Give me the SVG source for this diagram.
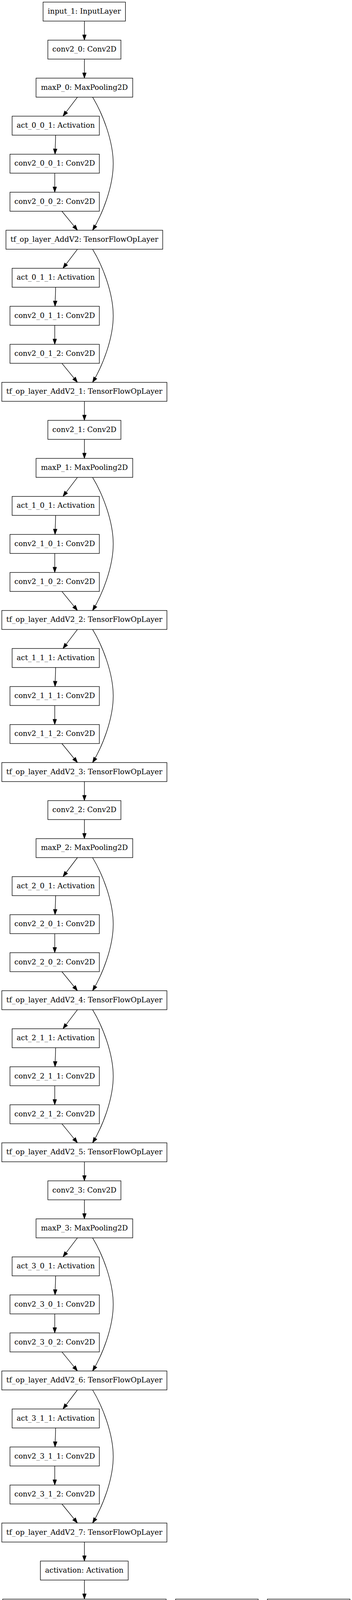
<svg xmlns="http://www.w3.org/2000/svg" width="900" height="4440" viewBox="0 0 900 4440">
<style>
.node rect{fill:#fff;stroke:#000;stroke-width:1.35}
.node text{font-family:"DejaVu Serif",serif;font-size:18.6px;text-anchor:middle;fill:#000}
#edges path{fill:none;stroke:#000;stroke-width:1.35;marker-end:url(#arr)}
</style>
<defs>
<marker id="arr" markerUnits="userSpaceOnUse" markerWidth="14" markerHeight="9.5" viewBox="0 0 14 9.5" refX="13.5" refY="4.75" orient="auto" overflow="visible"><path d="M0,0 L13.5,4.75 L0,9.5 z" fill="#000" stroke="#000" stroke-width="1"/></marker>
</defs>
<rect width="900" height="4440" fill="#fff"/>
<g id="edges">
<path transform="translate(0,29.7)" d="M215.8,24.3 L215.8,73.04"/>
<path transform="translate(0,127.04)" d="M215.8,24.3 L215.8,73.04"/>
<path transform="translate(0,224.38)" d="M198,24.3 L161,73.04"/>
<path transform="translate(0,224.38)" d="M236.7,24.3 C262,66 289.5,135.7 289.5,194.7 C289.5,253.7 262,323.4 236.7,365.06"/>
<path transform="translate(0,321.72)" d="M142.3,24.3 L140.7,73.04"/>
<path transform="translate(0,419.06)" d="M140,24.3 L140,73.04"/>
<path transform="translate(0,516.4)" d="M158.3,24.3 L198,73.04"/>
<path transform="translate(0,613.74)" d="M198,24.3 L161,73.04"/>
<path transform="translate(0,613.74)" d="M236.7,24.3 C262,66 289.5,135.7 289.5,194.7 C289.5,253.7 262,323.4 236.7,365.06"/>
<path transform="translate(0,711.08)" d="M142.3,24.3 L140.7,73.04"/>
<path transform="translate(0,808.42)" d="M140,24.3 L140,73.04"/>
<path transform="translate(0,905.76)" d="M158.3,24.3 L198,73.04"/>
<path transform="translate(0,1003.1)" d="M215.8,24.3 L215.8,73.04"/>
<path transform="translate(0,1100.44)" d="M215.8,24.3 L215.8,73.04"/>
<path transform="translate(0,1197.78)" d="M198,24.3 L161,73.04"/>
<path transform="translate(0,1197.78)" d="M236.7,24.3 C262,66 289.5,135.7 289.5,194.7 C289.5,253.7 262,323.4 236.7,365.06"/>
<path transform="translate(0,1295.12)" d="M142.3,24.3 L140.7,73.04"/>
<path transform="translate(0,1392.46)" d="M140,24.3 L140,73.04"/>
<path transform="translate(0,1489.8)" d="M158.3,24.3 L198,73.04"/>
<path transform="translate(0,1587.14)" d="M198,24.3 L161,73.04"/>
<path transform="translate(0,1587.14)" d="M236.7,24.3 C262,66 289.5,135.7 289.5,194.7 C289.5,253.7 262,323.4 236.7,365.06"/>
<path transform="translate(0,1684.48)" d="M142.3,24.3 L140.7,73.04"/>
<path transform="translate(0,1781.82)" d="M140,24.3 L140,73.04"/>
<path transform="translate(0,1879.16)" d="M158.3,24.3 L198,73.04"/>
<path transform="translate(0,1976.5)" d="M215.8,24.3 L215.8,73.04"/>
<path transform="translate(0,2073.84)" d="M215.8,24.3 L215.8,73.04"/>
<path transform="translate(0,2171.18)" d="M198,24.3 L161,73.04"/>
<path transform="translate(0,2171.18)" d="M236.7,24.3 C262,66 289.5,135.7 289.5,194.7 C289.5,253.7 262,323.4 236.7,365.06"/>
<path transform="translate(0,2268.52)" d="M142.3,24.3 L140.7,73.04"/>
<path transform="translate(0,2365.86)" d="M140,24.3 L140,73.04"/>
<path transform="translate(0,2463.2)" d="M158.3,24.3 L198,73.04"/>
<path transform="translate(0,2560.54)" d="M198,24.3 L161,73.04"/>
<path transform="translate(0,2560.54)" d="M236.7,24.3 C262,66 289.5,135.7 289.5,194.7 C289.5,253.7 262,323.4 236.7,365.06"/>
<path transform="translate(0,2657.88)" d="M142.3,24.3 L140.7,73.04"/>
<path transform="translate(0,2755.22)" d="M140,24.3 L140,73.04"/>
<path transform="translate(0,2852.56)" d="M158.3,24.3 L198,73.04"/>
<path transform="translate(0,2949.9)" d="M215.8,24.3 L215.8,73.04"/>
<path transform="translate(0,3047.24)" d="M215.8,24.3 L215.8,73.04"/>
<path transform="translate(0,3144.58)" d="M198,24.3 L161,73.04"/>
<path transform="translate(0,3144.58)" d="M236.7,24.3 C262,66 289.5,135.7 289.5,194.7 C289.5,253.7 262,323.4 236.7,365.06"/>
<path transform="translate(0,3241.92)" d="M142.3,24.3 L140.7,73.04"/>
<path transform="translate(0,3339.26)" d="M140,24.3 L140,73.04"/>
<path transform="translate(0,3436.6)" d="M158.3,24.3 L198,73.04"/>
<path transform="translate(0,3533.94)" d="M198,24.3 L161,73.04"/>
<path transform="translate(0,3533.94)" d="M236.7,24.3 C262,66 289.5,135.7 289.5,194.7 C289.5,253.7 262,323.4 236.7,365.06"/>
<path transform="translate(0,3631.28)" d="M142.3,24.3 L140.7,73.04"/>
<path transform="translate(0,3728.62)" d="M140,24.3 L140,73.04"/>
<path transform="translate(0,3825.96)" d="M158.3,24.3 L198,73.04"/>
<path transform="translate(0,3923.3)" d="M215.8,24.3 L215.8,73.04"/>
<path transform="translate(0,4020.64)" d="M215.8,24.3 L215.8,73.04"/>
<path d="M231.5,4142.3 L264.8,4191"/>
<path d="M554.4,4142.3 L554.4,4191"/>
<path d="M785,4142.3 L776,4191"/>
<path d="M346.7,4239.6 L488.3,4288.4"/>
<path d="M554.4,4239.6 L554.4,4288.4"/>
<path d="M719.3,4239.6 L606.9,4288.4"/>
<path d="M554.4,4337 L554.4,4385.7"/>
</g>
<g id="input_1" class="node" transform="translate(0,29.7)"><rect x="110.2" y="-24.3" width="210.5" height="48.6"/><text x="215.5" y="5.3">input_1: InputLayer</text></g>
<g id="conv2_0" class="node" transform="translate(0,127.04)"><rect x="122.4" y="-24.3" width="186.8" height="48.6"/><text x="215.8" y="5.3">conv2_0: Conv2D</text></g>
<g id="maxP_0" class="node" transform="translate(0,224.38)"><rect x="92.2" y="-24.3" width="247.2" height="48.6"/><text x="215.8" y="5.3">maxP_0: MaxPooling2D</text></g>
<g id="act_0_0_1" class="node" transform="translate(0,321.72)"><rect x="31" y="-24.3" width="223" height="48.6"/><text x="142.5" y="5.3">act_0_0_1: Activation</text></g>
<g id="conv2_0_0_1" class="node" transform="translate(0,419.06)"><rect x="25.5" y="-24.3" width="228.5" height="48.6"/><text x="139.8" y="5.3">conv2_0_0_1: Conv2D</text></g>
<g id="conv2_0_0_2" class="node" transform="translate(0,516.4)"><rect x="25.5" y="-24.3" width="228.5" height="48.6"/><text x="139.8" y="5.3">conv2_0_0_2: Conv2D</text></g>
<g id="tf_op_layer_AddV2" class="node" transform="translate(0,613.74)"><rect x="15.3" y="-24.3" width="400.7" height="48.6"/><text x="215.65" y="5.3">tf_op_layer_AddV2: TensorFlowOpLayer</text></g>
<g id="act_0_1_1" class="node" transform="translate(0,711.08)"><rect x="31" y="-24.3" width="223" height="48.6"/><text x="142.5" y="5.3">act_0_1_1: Activation</text></g>
<g id="conv2_0_1_1" class="node" transform="translate(0,808.42)"><rect x="25.5" y="-24.3" width="228.5" height="48.6"/><text x="139.8" y="5.3">conv2_0_1_1: Conv2D</text></g>
<g id="conv2_0_1_2" class="node" transform="translate(0,905.76)"><rect x="25.5" y="-24.3" width="228.5" height="48.6"/><text x="139.8" y="5.3">conv2_0_1_2: Conv2D</text></g>
<g id="tf_op_layer_AddV2_1" class="node" transform="translate(0,1003.1)"><rect x="4.6" y="-24.3" width="422.1" height="48.6"/><text x="215.65" y="5.3">tf_op_layer_AddV2_1: TensorFlowOpLayer</text></g>
<g id="conv2_1" class="node" transform="translate(0,1100.44)"><rect x="122.4" y="-24.3" width="186.8" height="48.6"/><text x="215.8" y="5.3">conv2_1: Conv2D</text></g>
<g id="maxP_1" class="node" transform="translate(0,1197.78)"><rect x="92.2" y="-24.3" width="247.2" height="48.6"/><text x="215.8" y="5.3">maxP_1: MaxPooling2D</text></g>
<g id="act_1_0_1" class="node" transform="translate(0,1295.12)"><rect x="31" y="-24.3" width="223" height="48.6"/><text x="142.5" y="5.3">act_1_0_1: Activation</text></g>
<g id="conv2_1_0_1" class="node" transform="translate(0,1392.46)"><rect x="25.5" y="-24.3" width="228.5" height="48.6"/><text x="139.8" y="5.3">conv2_1_0_1: Conv2D</text></g>
<g id="conv2_1_0_2" class="node" transform="translate(0,1489.8)"><rect x="25.5" y="-24.3" width="228.5" height="48.6"/><text x="139.8" y="5.3">conv2_1_0_2: Conv2D</text></g>
<g id="tf_op_layer_AddV2_2" class="node" transform="translate(0,1587.14)"><rect x="4.6" y="-24.3" width="422.1" height="48.6"/><text x="215.65" y="5.3">tf_op_layer_AddV2_2: TensorFlowOpLayer</text></g>
<g id="act_1_1_1" class="node" transform="translate(0,1684.48)"><rect x="31" y="-24.3" width="223" height="48.6"/><text x="142.5" y="5.3">act_1_1_1: Activation</text></g>
<g id="conv2_1_1_1" class="node" transform="translate(0,1781.82)"><rect x="25.5" y="-24.3" width="228.5" height="48.6"/><text x="139.8" y="5.3">conv2_1_1_1: Conv2D</text></g>
<g id="conv2_1_1_2" class="node" transform="translate(0,1879.16)"><rect x="25.5" y="-24.3" width="228.5" height="48.6"/><text x="139.8" y="5.3">conv2_1_1_2: Conv2D</text></g>
<g id="tf_op_layer_AddV2_3" class="node" transform="translate(0,1976.5)"><rect x="4.6" y="-24.3" width="422.1" height="48.6"/><text x="215.65" y="5.3">tf_op_layer_AddV2_3: TensorFlowOpLayer</text></g>
<g id="conv2_2" class="node" transform="translate(0,2073.84)"><rect x="122.4" y="-24.3" width="186.8" height="48.6"/><text x="215.8" y="5.3">conv2_2: Conv2D</text></g>
<g id="maxP_2" class="node" transform="translate(0,2171.18)"><rect x="92.2" y="-24.3" width="247.2" height="48.6"/><text x="215.8" y="5.3">maxP_2: MaxPooling2D</text></g>
<g id="act_2_0_1" class="node" transform="translate(0,2268.52)"><rect x="31" y="-24.3" width="223" height="48.6"/><text x="142.5" y="5.3">act_2_0_1: Activation</text></g>
<g id="conv2_2_0_1" class="node" transform="translate(0,2365.86)"><rect x="25.5" y="-24.3" width="228.5" height="48.6"/><text x="139.8" y="5.3">conv2_2_0_1: Conv2D</text></g>
<g id="conv2_2_0_2" class="node" transform="translate(0,2463.2)"><rect x="25.5" y="-24.3" width="228.5" height="48.6"/><text x="139.8" y="5.3">conv2_2_0_2: Conv2D</text></g>
<g id="tf_op_layer_AddV2_4" class="node" transform="translate(0,2560.54)"><rect x="4.6" y="-24.3" width="422.1" height="48.6"/><text x="215.65" y="5.3">tf_op_layer_AddV2_4: TensorFlowOpLayer</text></g>
<g id="act_2_1_1" class="node" transform="translate(0,2657.88)"><rect x="31" y="-24.3" width="223" height="48.6"/><text x="142.5" y="5.3">act_2_1_1: Activation</text></g>
<g id="conv2_2_1_1" class="node" transform="translate(0,2755.22)"><rect x="25.5" y="-24.3" width="228.5" height="48.6"/><text x="139.8" y="5.3">conv2_2_1_1: Conv2D</text></g>
<g id="conv2_2_1_2" class="node" transform="translate(0,2852.56)"><rect x="25.5" y="-24.3" width="228.5" height="48.6"/><text x="139.8" y="5.3">conv2_2_1_2: Conv2D</text></g>
<g id="tf_op_layer_AddV2_5" class="node" transform="translate(0,2949.9)"><rect x="4.6" y="-24.3" width="422.1" height="48.6"/><text x="215.65" y="5.3">tf_op_layer_AddV2_5: TensorFlowOpLayer</text></g>
<g id="conv2_3" class="node" transform="translate(0,3047.24)"><rect x="122.4" y="-24.3" width="186.8" height="48.6"/><text x="215.8" y="5.3">conv2_3: Conv2D</text></g>
<g id="maxP_3" class="node" transform="translate(0,3144.58)"><rect x="92.2" y="-24.3" width="247.2" height="48.6"/><text x="215.8" y="5.3">maxP_3: MaxPooling2D</text></g>
<g id="act_3_0_1" class="node" transform="translate(0,3241.92)"><rect x="31" y="-24.3" width="223" height="48.6"/><text x="142.5" y="5.3">act_3_0_1: Activation</text></g>
<g id="conv2_3_0_1" class="node" transform="translate(0,3339.26)"><rect x="25.5" y="-24.3" width="228.5" height="48.6"/><text x="139.8" y="5.3">conv2_3_0_1: Conv2D</text></g>
<g id="conv2_3_0_2" class="node" transform="translate(0,3436.6)"><rect x="25.5" y="-24.3" width="228.5" height="48.6"/><text x="139.8" y="5.3">conv2_3_0_2: Conv2D</text></g>
<g id="tf_op_layer_AddV2_6" class="node" transform="translate(0,3533.94)"><rect x="4.6" y="-24.3" width="422.1" height="48.6"/><text x="215.65" y="5.3">tf_op_layer_AddV2_6: TensorFlowOpLayer</text></g>
<g id="act_3_1_1" class="node" transform="translate(0,3631.28)"><rect x="31" y="-24.3" width="223" height="48.6"/><text x="142.5" y="5.3">act_3_1_1: Activation</text></g>
<g id="conv2_3_1_1" class="node" transform="translate(0,3728.62)"><rect x="25.5" y="-24.3" width="228.5" height="48.6"/><text x="139.8" y="5.3">conv2_3_1_1: Conv2D</text></g>
<g id="conv2_3_1_2" class="node" transform="translate(0,3825.96)"><rect x="25.5" y="-24.3" width="228.5" height="48.6"/><text x="139.8" y="5.3">conv2_3_1_2: Conv2D</text></g>
<g id="tf_op_layer_AddV2_7" class="node" transform="translate(0,3923.3)"><rect x="4.6" y="-24.3" width="422.1" height="48.6"/><text x="215.65" y="5.3">tf_op_layer_AddV2_7: TensorFlowOpLayer</text></g>
<g id="activation" class="node" transform="translate(0,4020.64)"><rect x="103.3" y="-24.3" width="224.4" height="48.6"/><text x="215.5" y="5.3">activation: Activation</text></g>
<g id="batch_normalization" class="node" transform="translate(0,4117.98)"><rect x="6.9" y="-24.3" width="417.9" height="48.6"/><text x="215.85" y="5.3">batch_normalization: BatchNormalization</text></g>
<g id="input_2" class="node" transform="translate(0,4117.98)"><rect x="448.9" y="-24.3" width="211.2" height="48.6"/><text x="554.5" y="5.3">input_2: InputLayer</text></g>
<g id="input_3" class="node" transform="translate(0,4117.98)"><rect x="683.6" y="-24.3" width="211.2" height="48.6"/><text x="789.2" y="5.3">input_3: InputLayer</text></g>
<g id="flatten_1" class="node" transform="translate(0,4215.32)"><rect x="186.5" y="-24.3" width="186.6" height="48.6"/><text x="279.8" y="5.3">flatten_1: Flatten</text></g>
<g id="flatten_2" class="node" transform="translate(0,4215.32)"><rect x="460.9" y="-24.3" width="187.1" height="48.6"/><text x="554.5" y="5.3">flatten_2: Flatten</text></g>
<g id="flatten" class="node" transform="translate(0,4215.32)"><rect x="688.8" y="-24.3" width="165.3" height="48.6"/><text x="771.5" y="5.3">flatten: Flatten</text></g>
<g id="concatenate" class="node" transform="translate(0,4312.66)"><rect x="420.7" y="-24.3" width="267.5" height="48.6"/><text x="554.5" y="5.3">concatenate: Concatenate</text></g>
<g id="dense2" class="node" transform="translate(0,4410)"><rect x="473.5" y="-24.3" width="161.3" height="48.6"/><text x="554.2" y="5.3">dense2: Dense</text></g>
</svg>
